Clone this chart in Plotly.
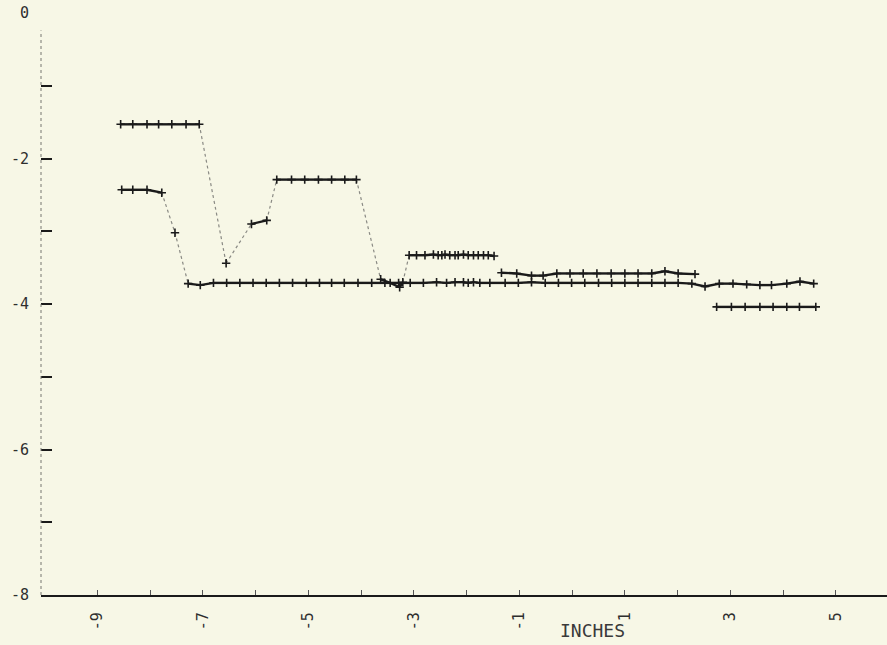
import plotly.graph_objects as go

# ---- data (inches) ----
# upper curve: two plateaus with a dip between, then a short plateau near -3.3
x_upper = [-8.56, -8.33, -8.06, -7.84, -7.59, -7.32, -7.07,
           -6.56,
           -6.08, -5.79,
           -5.60, -5.32, -5.07, -4.81, -4.56, -4.31, -4.09,
           -3.63, -3.45, -3.27, -3.21,
           -3.09, -2.95, -2.79, -2.63, -2.54, -2.47, -2.41, -2.32, -2.22,
           -2.16, -2.06, -1.97, -1.87, -1.78, -1.68, -1.59, -1.48]
y_upper = [-1.53, -1.53, -1.53, -1.53, -1.53, -1.53, -1.53,
           -3.44,
           -2.90, -2.85,
           -2.29, -2.29, -2.29, -2.29, -2.29, -2.29, -2.29,
           -3.66, -3.71, -3.77, -3.70,
           -3.33, -3.33, -3.33, -3.32, -3.33, -3.33, -3.32, -3.33, -3.33,
           -3.33, -3.32, -3.33, -3.33, -3.33, -3.33, -3.33, -3.34]

# second plateau near -3.6
x_second = [-1.34, -1.05, -0.77, -0.55, -0.29, -0.04, 0.21, 0.47,
            0.74, 1.00, 1.25, 1.51, 1.76, 2.01, 2.33]
y_second = [-3.57, -3.58, -3.61, -3.61, -3.58, -3.58, -3.58, -3.58,
            -3.58, -3.58, -3.58, -3.58, -3.55, -3.58, -3.59]

# long middle curve settling at about -3.7
x_middle = [-8.54, -8.33, -8.06, -7.78, -7.53, -7.28, -7.05,
            -6.80, -6.55, -6.30, -6.05, -5.80, -5.55, -5.30, -5.04, -4.79,
            -4.56, -4.32, -4.06, -3.80, -3.55, -3.29, -3.07, -2.82, -2.57,
            -2.38, -2.22, -2.06, -1.97, -1.87, -1.75, -1.56, -1.27, -1.02,
            -0.77, -0.51, -0.26, -0.01, 0.24, 0.50, 0.75, 1.00, 1.25, 1.51,
            1.76, 2.01, 2.27, 2.52, 2.79, 3.05, 3.31, 3.56, 3.78, 4.07,
            4.32, 4.58]
y_middle = [-2.43, -2.43, -2.43, -2.47, -3.02, -3.72, -3.74,
            -3.71, -3.71, -3.71, -3.71, -3.71, -3.71, -3.71, -3.71, -3.71,
            -3.71, -3.71, -3.71, -3.71, -3.71, -3.71, -3.71, -3.71, -3.70,
            -3.71, -3.70, -3.70, -3.71, -3.70, -3.71, -3.71, -3.71, -3.71,
            -3.70, -3.71, -3.71, -3.71, -3.71, -3.71, -3.71, -3.71, -3.71, -3.71,
            -3.71, -3.71, -3.72, -3.76, -3.72, -3.72, -3.73, -3.74, -3.74, -3.72,
            -3.69, -3.72]

# lowest plateau near -4
x_lower = [2.74, 3.02, 3.28, 3.56, 3.81, 4.07, 4.31, 4.62]
y_lower = [-4.04, -4.04, -4.04, -4.04, -4.04, -4.04, -4.04, -4.04]

x_tickvals = list(range(-9, 6))
x_ticktext = [str(v) if v % 2 else "" for v in x_tickvals]
y_tickvals = list(range(-8, 1))
y_ticktext = [str(v) if v % 2 == 0 else "" for v in y_tickvals]

INK = "#1a1a1a"
FAINT = "#8a8a84"
PAPER = "#f7f7e6"
FONT = "DejaVu Sans Mono"


def split_segments(xs, ys, tol=0.08):
    """Separate near-level segments (drawn heavy) from steep ones (drawn faint)."""
    fx, fy, sx, sy = [], [], [], []
    for i in range(len(xs) - 1):
        if abs(ys[i + 1] - ys[i]) <= tol:
            fx += [xs[i], xs[i + 1], None]
            fy += [ys[i], ys[i + 1], None]
        else:
            sx += [xs[i], xs[i + 1], None]
            sy += [ys[i], ys[i + 1], None]
    return fx, fy, sx, sy


fig = go.Figure()

for xs, ys in [(x_upper, y_upper), (x_second, y_second),
               (x_middle, y_middle), (x_lower, y_lower)]:
    fx, fy, sx, sy = split_segments(xs, ys)
    fig.add_trace(go.Scatter(x=sx, y=sy, mode="lines",
                             line=dict(color=FAINT, width=1.2, dash="dot"),
                             hoverinfo="skip", showlegend=False))
    fig.add_trace(go.Scatter(x=fx, y=fy, mode="lines",
                             line=dict(color=INK, width=2.4),
                             hoverinfo="skip", showlegend=False))
    fig.add_trace(go.Scatter(x=xs, y=ys, mode="markers",
                             marker=dict(symbol="cross-thin", size=6,
                                         line=dict(color=INK, width=1.6)),
                             showlegend=False))

# dotted vertical axis line
fig.add_shape(type="line", xref="paper", yref="paper",
              x0=0, x1=0, y0=0, y1=0.97,
              line=dict(color="#777770", width=1, dash="dot"))

fig.add_annotation(text="INCHES", x=0.38, xref="x", y=-0.061, yref="paper",
                   showarrow=False, yanchor="middle",
                   font=dict(family=FONT, size=18, color="#3a3a3a"))

fig.update_layout(
    width=887, height=645,
    margin=dict(l=41, r=0, t=13, b=50),
    paper_bgcolor=PAPER, plot_bgcolor=PAPER,
    showlegend=False,
    xaxis=dict(range=[-10.07, 5.97], tickvals=x_tickvals, ticktext=x_ticktext,
               tickangle=-90, ticks="inside", ticklen=5, tickwidth=1,
               tickcolor="#555", showline=True, linewidth=2.4, linecolor=INK,
               showgrid=False, zeroline=False, ticklabelstandoff=9,
               tickfont=dict(family=FONT, size=15, color="#2e2e2e")),
    yaxis=dict(range=[-8, 0], tickvals=y_tickvals, ticktext=y_ticktext,
               ticks="inside", ticklen=11, tickwidth=2, tickcolor=INK,
               showline=False, showgrid=False, zeroline=False,
               ticklabelstandoff=11,
               tickfont=dict(family=FONT, size=15, color="#2e2e2e")),
)

fig.write_html("out.html")
